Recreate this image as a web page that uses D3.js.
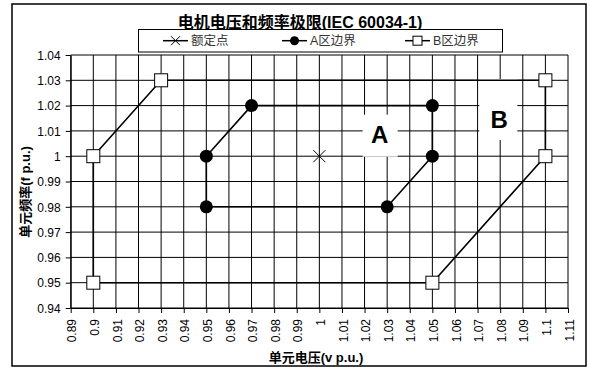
<!DOCTYPE html>
<html>
<head>
<meta charset="utf-8">
<script src="https://cdn.jsdelivr.net/npm/d3@7"></script>
<style>
  html, body { margin: 0; padding: 0; background: #fff; }
  svg { display: block; }
  text { font-family: "Liberation Sans", Arial, "Noto Sans CJK SC", sans-serif; }
</style>
</head>
<body>
<svg id="chart" width="590" height="367"></svg>
<script>
// Axis ticks (per-unit voltage on x, per-unit frequency on y)
const voltageTicks = [0.89, 0.90, 0.91, 0.92, 0.93, 0.94, 0.95, 0.96, 0.97, 0.98, 0.99, 1.00,
                      1.01, 1.02, 1.03, 1.04, 1.05, 1.06, 1.07, 1.08, 1.09, 1.10, 1.11];
const voltageTickLabels = ["0.89", "0.9", "0.91", "0.92", "0.93", "0.94", "0.95", "0.96", "0.97", "0.98", "0.99", "1",
                           "1.01", "1.02", "1.03", "1.04", "1.05", "1.06", "1.07", "1.08", "1.09", "1.1", "1.11"];
const frequencyTicks = [0.94, 0.95, 0.96, 0.97, 0.98, 0.99, 1.00, 1.01, 1.02, 1.03, 1.04];
const frequencyTickLabels = ["0.94", "0.95", "0.96", "0.97", "0.98", "0.99", "1", "1.01", "1.02", "1.03", "1.04"];

// Rated operating point
const ratedVoltage = [1.00];
const ratedFrequency = [1.00];

// Zone A boundary (closed polygon)
const zoneAVoltage   = [0.95, 0.95, 0.97, 1.05, 1.05, 1.03, 0.95];
const zoneAFrequency = [0.98, 1.00, 1.02, 1.02, 1.00, 0.98, 0.98];

// Zone B boundary (closed polygon)
const zoneBVoltage   = [0.90, 0.90, 0.93, 1.10, 1.10, 1.05, 0.90];
const zoneBFrequency = [0.95, 1.00, 1.03, 1.03, 1.00, 0.95, 0.95];

const legendLabels = ["额定点", "A区边界", "B区边界"];
const zoneNames = ["A", "B"];

const svg = d3.select("#chart");

// chart frame
svg.append("rect")
  .attr("x", 12).attr("y", 4).attr("width", 574).attr("height", 362)
  .attr("fill", "#fff").attr("stroke", "#000").attr("stroke-width", 1.5);

const x = d3.scaleLinear().domain([0.89, 1.11]).range([70.7, 568]);
const y = d3.scaleLinear().domain([0.94, 1.04]).range([308, 55]);

// gridlines
const grid = svg.append("g").attr("stroke", "#000").attr("stroke-width", 1);
grid.selectAll("line.v").data(voltageTicks).join("line").attr("class", "v")
  .attr("x1", d => x(d)).attr("x2", d => x(d)).attr("y1", y(0.94)).attr("y2", y(1.04));
grid.selectAll("line.h").data(frequencyTicks).join("line").attr("class", "h")
  .attr("x1", x(0.89)).attr("x2", x(1.11)).attr("y1", d => y(d)).attr("y2", d => y(d));

// axes
const xAxis = d3.axisBottom(x).tickValues(voltageTicks)
  .tickFormat((d, i) => voltageTickLabels[i]).tickSize(5).tickSizeOuter(0);
const yAxis = d3.axisLeft(y).tickValues(frequencyTicks)
  .tickFormat((d, i) => frequencyTickLabels[i]).tickSize(5).tickSizeOuter(0);

const gx = svg.append("g").attr("transform", `translate(0,${y(0.94)})`).call(xAxis);
gx.select(".domain").attr("stroke", "#000");
gx.selectAll(".tick line").attr("stroke", "#000");
gx.selectAll(".tick text")
  .attr("font-size", 12).attr("fill", "#000")
  .attr("text-anchor", "end")
  .attr("transform", "rotate(-90)")
  .attr("x", -11).attr("y", 1).attr("dy", "0.35em");

const gy = svg.append("g").attr("transform", `translate(${x(0.89)},0)`).call(yAxis);
gy.select(".domain").attr("stroke", "#000");
gy.selectAll(".tick line").attr("stroke", "#000");
gy.selectAll(".tick text")
  .attr("font-size", 12).attr("fill", "#000").attr("x", -10).attr("dy", "0.35em");

// axis titles
svg.append("text").attr("x", 316).attr("y", 362)
  .attr("text-anchor", "middle").attr("font-size", 13).attr("font-weight", "bold")
  .text("单元电压(v p.u.)");
svg.append("text").attr("transform", "translate(30,192) rotate(-90)")
  .attr("text-anchor", "middle").attr("font-size", 13).attr("font-weight", "bold")
  .text("单元频率(f p.u.)");

// title
svg.append("text").attr("x", 300).attr("y", 28)
  .attr("text-anchor", "middle").attr("font-size", 16).attr("font-weight", "bold")
  .text("电机电压和频率极限(IEC 60034-1)");

// zone labels on white boxes
const zoneLabelPos = [
  { v: 1.0267, f: 1.0085, box: [-17, -20, 35, 42] },
  { v: 1.0796, f: 1.0147, box: [-20, -40, 38, 61] }
];
zoneNames.forEach((name, i) => {
  const p = zoneLabelPos[i];
  const cx = x(p.v), cy = y(p.f);
  svg.append("rect").attr("x", cx + p.box[0]).attr("y", cy + p.box[1])
    .attr("width", p.box[2]).attr("height", p.box[3]).attr("fill", "#fff");
  svg.append("text").attr("x", cx).attr("y", cy).attr("dy", "0.36em")
    .attr("text-anchor", "middle").attr("font-size", 24).attr("font-weight", "bold")
    .text(name);
});

const line = d3.line().x(d => x(d[0])).y(d => y(d[1]));
const zoneA = zoneAVoltage.map((v, i) => [v, zoneAFrequency[i]]);
const zoneB = zoneBVoltage.map((v, i) => [v, zoneBFrequency[i]]);

svg.append("path").attr("d", line(zoneB)).attr("fill", "none")
  .attr("stroke", "#000").attr("stroke-width", 1.6);
svg.append("path").attr("d", line(zoneA)).attr("fill", "none")
  .attr("stroke", "#000").attr("stroke-width", 1.6);

// markers
svg.selectAll("rect.bmark").data(zoneB.slice(0, -1)).join("rect").attr("class", "bmark")
  .attr("x", d => x(d[0]) - 6.5).attr("y", d => y(d[1]) - 6.5)
  .attr("width", 13).attr("height", 13)
  .attr("fill", "#fff").attr("stroke", "#000").attr("stroke-width", 1);
svg.selectAll("circle.amark").data(zoneA.slice(0, -1)).join("circle").attr("class", "amark")
  .attr("cx", d => x(d[0])).attr("cy", d => y(d[1])).attr("r", 6.5).attr("fill", "#000");

const cross = (g, cx, cy, s, w) => {
  g.append("path")
    .attr("d", `M${cx - s},${cy - s}L${cx + s},${cy + s}M${cx - s},${cy + s}L${cx + s},${cy - s}`)
    .attr("stroke", "#000").attr("stroke-width", w).attr("fill", "none");
};
ratedVoltage.forEach((v, i) => cross(svg, x(v), y(ratedFrequency[i]), 6, 1));

// legend
svg.append("rect").attr("x", 138.5).attr("y", 29.5).attr("width", 364).attr("height", 22.5)
  .attr("fill", "#fff").attr("stroke", "#000").attr("stroke-width", 1);
const legendX = [163, 282, 405];
const ly = 40.7;
legendLabels.forEach((label, i) => {
  const lx = legendX[i];
  const g = svg.append("g");
  g.append("line").attr("x1", lx).attr("x2", lx + 25).attr("y1", ly).attr("y2", ly)
    .attr("stroke", "#000").attr("stroke-width", 1.5);
  const mx = lx + 12.5;
  if (i === 0) cross(g, mx, ly, 4.5, 1);
  if (i === 1) g.append("circle").attr("cx", mx).attr("cy", ly).attr("r", 4.5).attr("fill", "#000");
  if (i === 2) g.append("rect").attr("x", mx - 4.5).attr("y", ly - 4.5).attr("width", 9).attr("height", 9)
    .attr("fill", "#fff").attr("stroke", "#000").attr("stroke-width", 1);
  g.append("text").attr("x", lx + 28).attr("y", ly).attr("dy", "0.36em")
    .attr("font-size", 12.5).attr("fill", "#333").text(label);
});
</script>
</body>
</html>
